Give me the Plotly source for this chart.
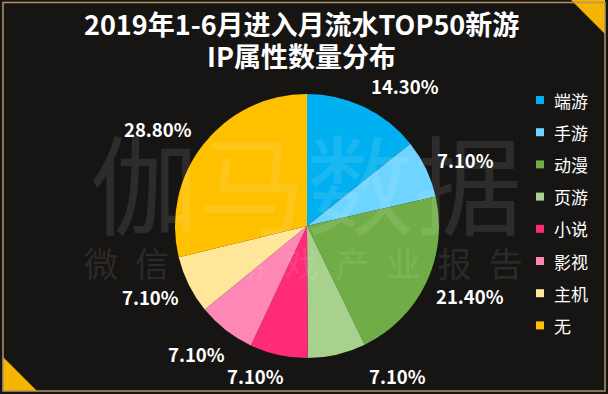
import math
import plotly.graph_objects as go

# ---- data ----
categories = ["端游", "手游", "动漫", "页游", "小说", "影视", "主机", "无"]
shares = [14.3, 7.1, 21.4, 7.1, 7.1, 7.1, 7.1, 28.8]
label_texts = ["14.30%", "7.10%", "21.40%", "7.10%", "7.10%", "7.10%", "7.10%", "28.80%"]
colors = ["#00b0f0", "#6dd5ff", "#70ad47", "#a9d18e", "#ff2a78", "#ff87b6", "#ffe699", "#ffc000"]
title_lines = ["2019年1-6月进入月流水TOP50新游", "IP属性数量分布"]

# label placement styling (best-fit nudges from each slice's mid angle, degrees; radial distance, px)
label_nudge_deg = [9.3, 3.2, -2.4, -17.9, 6.6, 3.0, 2.2, -5.2]
label_dist_px = [171, 172, 177, 175, 159, 169, 172, 178]

W, H = 608, 394
CX, CY, R = 307, 226, 132
FONT = "Noto Sans CJK SC"


def px(x):
    return x / W


def py(y):
    return 1 - y / H


fig = go.Figure()
fig.add_trace(go.Pie(
    labels=categories,
    values=shares,
    sort=False,
    direction="clockwise",
    rotation=0,
    marker=dict(colors=colors, line=dict(width=0)),
    textinfo="none",
    hoverinfo="label+percent",
    showlegend=False,
    domain=dict(x=[px(CX - R), px(CX + R)], y=[py(CY + R), py(CY - R)]),
))

annotations = []
shapes = []

# watermark
annotations.append(dict(text="伽马数据", x=px(306), y=py(180), xref="paper", yref="paper",
                        showarrow=False, font=dict(family=FONT, size=108, color="rgba(255,255,255,0.10)"),
                        xanchor="center", yanchor="middle"))
annotations.append(dict(text="\u2002".join("微信—游戏产业报告"), x=px(303), y=py(262), xref="paper", yref="paper",
                        showarrow=False, font=dict(family=FONT, size=34, color="rgba(255,255,255,0.10)"),
                        xanchor="center", yanchor="middle"))

# title
for i, t in enumerate(title_lines):
    annotations.append(dict(text=f"<b>{t}</b>", x=px(301), y=py(24 + 31 * i), xref="paper", yref="paper",
                            showarrow=False, font=dict(family=FONT, size=27, color="white"),
                            xanchor="center", yanchor="middle"))

# slice labels, placed around each slice's mid angle
total = sum(shares)
cum = 0.0
for v, t, nd, dist in zip(shares, label_texts, label_nudge_deg, label_dist_px):
    mid = (cum + v / 2) / total * 360.0
    cum += v
    a = math.radians(mid + nd)
    lx = CX + dist * math.sin(a)
    ly = CY - dist * math.cos(a)
    annotations.append(dict(text=f"<b>{t}</b>", x=px(lx), y=py(ly), xref="paper", yref="paper",
                            showarrow=False, font=dict(family=FONT, size=18.5, color="white"),
                            xanchor="center", yanchor="middle"))

# legend (manual)
for i, (c, col) in enumerate(zip(categories, colors)):
    yc = 100 + i * 32.2
    shapes.append(dict(type="rect", xref="paper", yref="paper",
                       x0=px(536), x1=px(544), y0=py(yc + 4), y1=py(yc - 4),
                       fillcolor=col, line=dict(width=0)))
    annotations.append(dict(text=c, x=px(552), y=py(yc), xref="paper", yref="paper",
                            showarrow=False, font=dict(family=FONT, size=17, color="white"),
                            xanchor="left", yanchor="middle"))

# decorative frame & corner triangles
shapes.append(dict(type="path", xref="paper", yref="paper",
                   path=f"M {px(571)} {py(0)} L {px(605)} {py(0)} L {px(605)} {py(34)} Z",
                   fillcolor="#f5b400", line=dict(width=0)))
shapes.append(dict(type="path", xref="paper", yref="paper",
                   path=f"M {px(3)} {py(357)} L {px(3)} {py(391)} L {px(37)} {py(391)} Z",
                   fillcolor="#f5b400", line=dict(width=0)))
shapes.append(dict(type="rect", xref="paper", yref="paper",
                   x0=px(3), x1=px(605), y0=py(391), y1=py(2.5),
                   fillcolor="rgba(0,0,0,0)", line=dict(color="#b39563", width=1.5)))

fig.update_layout(
    width=W, height=H,
    margin=dict(l=0, r=0, t=0, b=0),
    paper_bgcolor="#171513",
    plot_bgcolor="#171513",
    annotations=annotations,
    shapes=shapes,
    showlegend=False,
)

fig.write_html("out.html", config={"displayModeBar": False},
               post_script="document.body.style.margin='0';document.body.style.overflow='hidden';")
